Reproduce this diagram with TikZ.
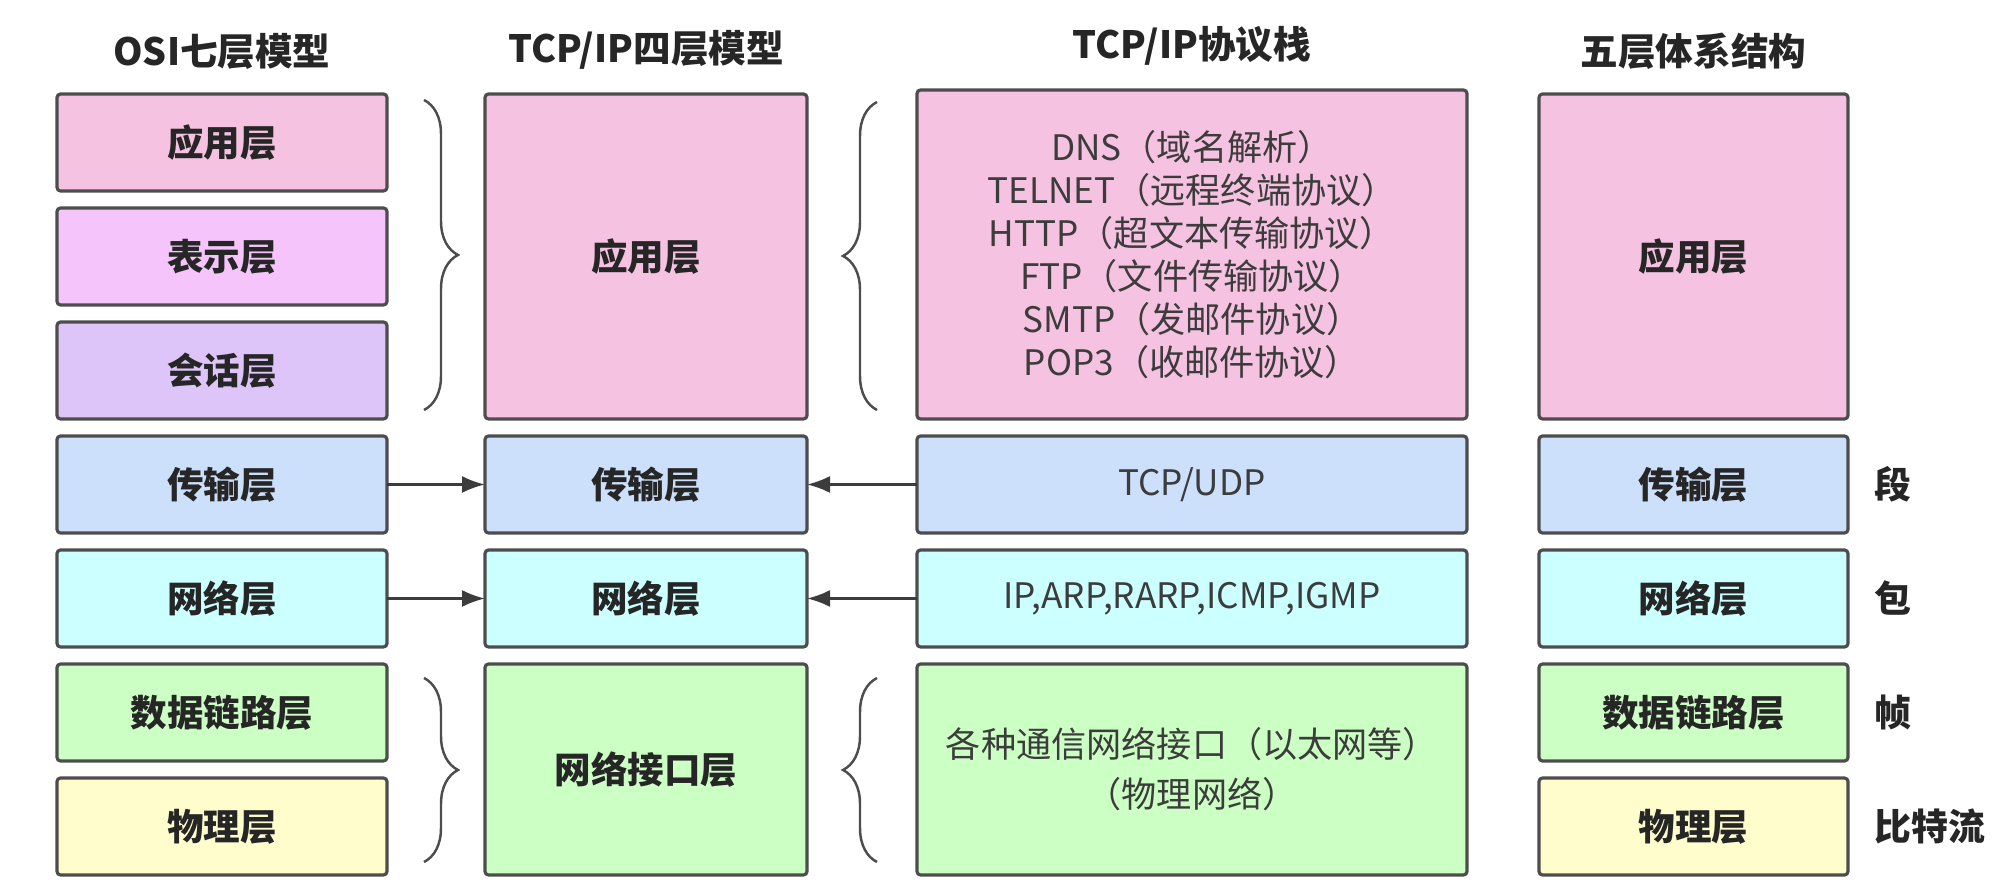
\documentclass[tikz,border=0pt]{standalone}
\usepackage{fontspec}
\setmainfont{Noto Sans CJK SC}
\usetikzlibrary{positioning,arrows.meta,calc,decorations.pathreplacing}

\definecolor{appC}{HTML}{F5C2E1}
\definecolor{presC}{HTML}{F5C4FA}
\definecolor{sessC}{HTML}{DDC4F9}
\definecolor{transC}{HTML}{CCE0FC}
\definecolor{netC}{HTML}{CCFFFF}
\definecolor{linkC}{HTML}{CCFFC4}
\definecolor{phyC}{HTML}{FFFDCC}
\definecolor{edgeC}{HTML}{4D4D4D}
\definecolor{inkC}{HTML}{262626}

\begin{document}
\begin{tikzpicture}[
    node distance=1.7mm and 9.8mm,
    >={Latex[length=2.3mm,width=1.7mm]},
    line/.style={->, line width=0.7pt, draw=inkC!90},
    layer/.style={
        draw=edgeC, line width=0.9pt, rounded corners=1pt,
        outer sep=0pt,
        minimum width=33mm,
        minimum height=9.7mm,
        align=center,
        text=inkC,
        font=\bfseries\fontsize{10.4}{12.5}\selectfont
    },
    stack/.style={
        layer,
        text=inkC!90,
        font=\fontsize{10}{12.2}\selectfont
    },
    title/.style={
        inner sep=0pt,
        text=inkC,
        font=\bfseries\fontsize{10.7}{13}\selectfont
    },
    tag/.style={
        inner sep=0pt,
        text=inkC,
        font=\bfseries\fontsize{10.5}{13}\selectfont
    },
    brc/.style={
        draw=edgeC, line width=0.7pt,
        decorate, decoration={brace, amplitude=3.4mm}
    }
]
\useasboundingbox (0,0) rectangle (20,-8.96);

% OSI seven layers
\node[layer, fill=appC] (osiApp) at (2.22,-1.425) {应用层};
\node[layer, fill=presC,  below=of osiApp]   (osiPres)  {表示层};
\node[layer, fill=sessC,  below=of osiPres]  (osiSess)  {会话层};
\node[layer, fill=transC, below=of osiSess]  (osiTrans) {传输层};
\node[layer, fill=netC,   below=of osiTrans] (osiNet)   {网络层};
\node[layer, fill=linkC,  below=of osiNet]   (osiLink)  {数据链路层};
\node[layer, fill=phyC,   below=of osiLink]  (osiPhy)   {物理层};

% TCP/IP four layers
\node[layer, fill=transC, minimum width=32.2mm, right=of osiTrans] (tcpTrans) {传输层};
\node[layer, fill=appC, minimum width=32.2mm, minimum height=32.5mm, above=of tcpTrans] (tcpApp) {应用层};
\node[layer, fill=netC, minimum width=32.2mm, below=of tcpTrans] (tcpNet) {网络层};
\node[layer, fill=linkC, minimum width=32.2mm, minimum height=21.1mm, below=of tcpNet] (tcpLink) {网络接口层};

% protocol stack
\node[stack, fill=transC, minimum width=55mm, right=11mm of tcpTrans] (stkTrans) {TCP/UDP};
\node[stack, fill=appC, minimum width=55mm, minimum height=32.9mm, above=of stkTrans] (stkApp) {%
DNS（域名解析）\\
TELNET（远程终端协议）\\
HTTP（超文本传输协议）\\
FTP（文件传输协议）\\
SMTP（发邮件协议）\\
POP3（收邮件协议）};
\node[stack, fill=netC, minimum width=55mm, below=of stkTrans] (stkNet) {IP,ARP,RARP,ICMP,IGMP};
\node[stack, fill=linkC, minimum width=55mm, minimum height=21.1mm, below=of stkNet] (stkLink) {%
各种通信网络接口（以太网等）\\[2pt]
（物理网络）};

% five layers
\node[layer, fill=transC, minimum width=30.9mm, right=7.2mm of stkTrans] (fiveTrans) {传输层};
\node[layer, fill=appC, minimum width=30.9mm, minimum height=32.5mm, above=of fiveTrans] (fiveApp) {应用层};
\node[layer, fill=netC, minimum width=30.9mm, below=of fiveTrans] (fiveNet) {网络层};
\node[layer, fill=linkC, minimum width=30.9mm, below=of fiveNet] (fiveLink) {数据链路层};
\node[layer, fill=phyC, minimum width=30.9mm, below=of fiveLink] (fivePhy) {物理层};

% data units
\node[tag, right=2.6mm of fiveTrans] (uSeg)  {段};
\node[tag, right=2.6mm of fiveNet]   (uPkt)  {包};
\node[tag, right=2.6mm of fiveLink]  (uFrm)  {帧};
\node[tag, right=2.6mm of fivePhy]   (uBit)  {比特流};

% titles
\node[title, above=2.4mm of osiApp]  (tOsi)  {OSI七层模型};
\node[title, above=2.4mm of tcpApp]  (tTcp)  {TCP/IP四层模型};
\node[title, above=2.4mm of stkApp]  (tStk)  {TCP/IP协议栈};
\node[title, above=2.4mm of fiveApp] (tFive) {五层体系结构};

% arrows
\draw[line] (osiTrans) -- (tcpTrans);
\draw[line] (osiNet)   -- (tcpNet);
\draw[line] (stkTrans) -- (tcpTrans);
\draw[line] (stkNet)   -- (tcpNet);

% braces
\coordinate (b1top) at ($(osiApp.north east)+(3.7mm,-0.6mm)$);
\coordinate (b1bot) at ($(osiSess.south east)+(3.7mm,0.9mm)$);
\coordinate (b2top) at ($(tcpApp.north east)+(7mm,-0.8mm)$);
\coordinate (b2bot) at ($(tcpApp.south east)+(7mm,0.9mm)$);
\coordinate (b3top) at ($(osiLink.north east)+(3.7mm,-1.4mm)$);
\coordinate (b3bot) at ($(osiPhy.south east)+(3.7mm,1.3mm)$);
\coordinate (b4top) at ($(tcpLink.north east)+(7mm,-1.4mm)$);
\coordinate (b4bot) at ($(tcpLink.south east)+(7mm,1.3mm)$);
\draw[brc] (b1top) -- (b1bot);
\draw[brc] (b2bot) -- (b2top);
\draw[brc] (b3top) -- (b3bot);
\draw[brc] (b4bot) -- (b4top);

\end{tikzpicture}
\end{document}
